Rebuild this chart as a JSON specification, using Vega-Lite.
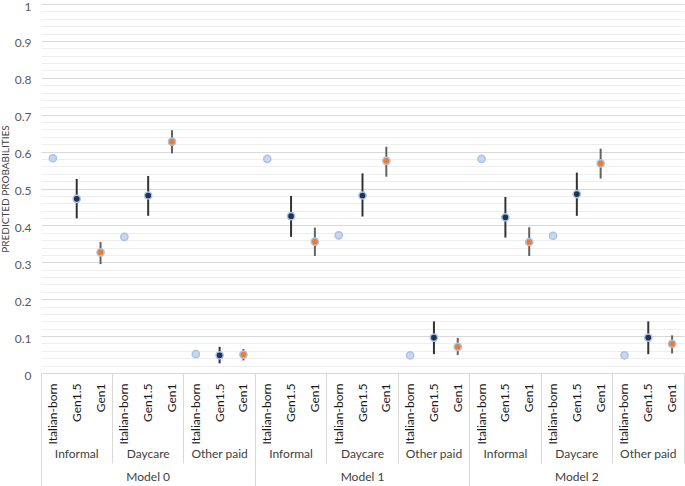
{
  "$schema": "https://vega.github.io/schema/vega-lite/v6.json",
  "autosize": {"type": "none"},
  "padding": {"left": 41, "top": 4, "right": 1, "bottom": 113},
  "width": 643,
  "height": 369,
  "background": "white",
  "config": {"view": {"stroke": null}, "font": "Lato"},
  "data": {
    "values": [
      {"model": "Model 0", "care": "Informal", "gen": "Italian-born", "p": 0.582, "lo": null, "hi": null},
      {"model": "Model 0", "care": "Informal", "gen": "Gen1.5", "p": 0.472, "lo": 0.419, "hi": 0.526},
      {"model": "Model 0", "care": "Informal", "gen": "Gen1", "p": 0.327, "lo": 0.295, "hi": 0.355},
      {"model": "Model 0", "care": "Daycare", "gen": "Italian-born", "p": 0.369, "lo": null, "hi": null},
      {"model": "Model 0", "care": "Daycare", "gen": "Gen1.5", "p": 0.481, "lo": 0.426, "hi": 0.534},
      {"model": "Model 0", "care": "Daycare", "gen": "Gen1", "p": 0.627, "lo": 0.595, "hi": 0.658},
      {"model": "Model 0", "care": "Other paid", "gen": "Italian-born", "p": 0.051, "lo": null, "hi": null},
      {"model": "Model 0", "care": "Other paid", "gen": "Gen1.5", "p": 0.048, "lo": 0.026, "hi": 0.071},
      {"model": "Model 0", "care": "Other paid", "gen": "Gen1", "p": 0.05, "lo": 0.034, "hi": 0.065},
      {"model": "Model 1", "care": "Informal", "gen": "Italian-born", "p": 0.58, "lo": null, "hi": null},
      {"model": "Model 1", "care": "Informal", "gen": "Gen1.5", "p": 0.425, "lo": 0.369, "hi": 0.48},
      {"model": "Model 1", "care": "Informal", "gen": "Gen1", "p": 0.356, "lo": 0.317, "hi": 0.394},
      {"model": "Model 1", "care": "Daycare", "gen": "Italian-born", "p": 0.373, "lo": null, "hi": null},
      {"model": "Model 1", "care": "Daycare", "gen": "Gen1.5", "p": 0.481, "lo": 0.424, "hi": 0.541},
      {"model": "Model 1", "care": "Daycare", "gen": "Gen1", "p": 0.575, "lo": 0.532, "hi": 0.613},
      {"model": "Model 1", "care": "Other paid", "gen": "Italian-born", "p": 0.048, "lo": null, "hi": null},
      {"model": "Model 1", "care": "Other paid", "gen": "Gen1.5", "p": 0.096, "lo": 0.051, "hi": 0.14},
      {"model": "Model 1", "care": "Other paid", "gen": "Gen1", "p": 0.071, "lo": 0.049, "hi": 0.095},
      {"model": "Model 2", "care": "Informal", "gen": "Italian-born", "p": 0.58, "lo": null, "hi": null},
      {"model": "Model 2", "care": "Informal", "gen": "Gen1.5", "p": 0.422, "lo": 0.367, "hi": 0.477},
      {"model": "Model 2", "care": "Informal", "gen": "Gen1", "p": 0.355, "lo": 0.317, "hi": 0.395},
      {"model": "Model 2", "care": "Daycare", "gen": "Italian-born", "p": 0.372, "lo": null, "hi": null},
      {"model": "Model 2", "care": "Daycare", "gen": "Gen1.5", "p": 0.485, "lo": 0.426, "hi": 0.543},
      {"model": "Model 2", "care": "Daycare", "gen": "Gen1", "p": 0.568, "lo": 0.527, "hi": 0.608},
      {"model": "Model 2", "care": "Other paid", "gen": "Italian-born", "p": 0.048, "lo": null, "hi": null},
      {"model": "Model 2", "care": "Other paid", "gen": "Gen1.5", "p": 0.096, "lo": 0.051, "hi": 0.14},
      {"model": "Model 2", "care": "Other paid", "gen": "Gen1", "p": 0.079, "lo": 0.053, "hi": 0.102}
    ]
  },
  "transform": [
    {"calculate": "datum.model + '|' + datum.care + '|' + datum.gen", "as": "slot"},
    {"calculate": "datum.model + '|' + datum.care", "as": "careKey"}
  ],
  "layer": [
    {
      "encoding": {
        "x": {
          "field": "slot", "type": "nominal",
          "scale": {
            "type": "band", "paddingInner": 0, "paddingOuter": 0,
            "domain": [
              "Model 0|Informal|Italian-born", "Model 0|Informal|Gen1.5", "Model 0|Informal|Gen1",
              "Model 0|Daycare|Italian-born", "Model 0|Daycare|Gen1.5", "Model 0|Daycare|Gen1",
              "Model 0|Other paid|Italian-born", "Model 0|Other paid|Gen1.5", "Model 0|Other paid|Gen1",
              "Model 1|Informal|Italian-born", "Model 1|Informal|Gen1.5", "Model 1|Informal|Gen1",
              "Model 1|Daycare|Italian-born", "Model 1|Daycare|Gen1.5", "Model 1|Daycare|Gen1",
              "Model 1|Other paid|Italian-born", "Model 1|Other paid|Gen1.5", "Model 1|Other paid|Gen1",
              "Model 2|Informal|Italian-born", "Model 2|Informal|Gen1.5", "Model 2|Informal|Gen1",
              "Model 2|Daycare|Italian-born", "Model 2|Daycare|Gen1.5", "Model 2|Daycare|Gen1",
              "Model 2|Other paid|Italian-born", "Model 2|Other paid|Gen1.5", "Model 2|Other paid|Gen1"
            ]
          },
          "axis": {
            "orient": "bottom", "title": null, "grid": false,
            "labelExpr": "split(datum.value, '|')[2]",
            "labelAngle": -90, "labelAlign": "right", "labelBaseline": "middle",
            "labelPadding": 10, "labelFontSize": 12, "labelColor": "#1a1a1a",
            "labelOverlap": false, "ticks": false, "tickSize": 0,
            "domain": true, "domainColor": "#d9d9d9", "domainWidth": 1
          }
        }
      },
      "layer": [
        {
          "mark": {"type": "rule", "strokeWidth": 2},
          "encoding": {
            "y": {
              "field": "lo", "type": "quantitative",
              "scale": {"domain": [0, 1], "nice": false, "zero": true},
              "axis": {
                "title": "PREDICTED PROBABILITIES",
                "titleFontSize": 10, "titleFontWeight": "normal", "titleColor": "#404040",
                "titlePadding": 4,
                "values": [0, 0.02, 0.04, 0.06, 0.08, 0.1, 0.12, 0.14, 0.16, 0.18, 0.2, 0.22, 0.24, 0.26, 0.28, 0.3, 0.32, 0.34, 0.36, 0.38, 0.4, 0.42, 0.44, 0.46, 0.48, 0.5, 0.52, 0.54, 0.56, 0.58, 0.6, 0.62, 0.64, 0.66, 0.68, 0.7, 0.72, 0.74, 0.76, 0.78, 0.8, 0.82, 0.84, 0.86, 0.88, 0.9, 0.92, 0.94, 0.96, 0.98, 1],
                "labelExpr": "abs(datum.value*10 - round(datum.value*10)) < 0.000001 ? format(datum.value, '~g') : ''",
                "labelFontSize": 12, "labelColor": "#595959", "labelPadding": 10,
                "labelOffset": 2,
                "labelOverlap": false,
                "ticks": false, "tickSize": 0, "domain": false,
                "grid": true,
                "gridColor": {
                  "condition": {"test": "abs(datum.value*10 - round(datum.value*10)) < 0.000001", "value": "#d9d9d9"},
                  "value": "#eeeeee"
                },
                "gridWidth": 1
              }
            },
            "y2": {"field": "hi"},
            "stroke": {
              "field": "gen", "type": "nominal",
              "scale": {"domain": ["Italian-born", "Gen1.5", "Gen1"], "range": ["#333333", "#333333", "#626262"]},
              "legend": null
            }
          }
        },
        {
          "mark": {"type": "circle", "size": 52, "stroke": "#a9c2e6", "strokeWidth": 1.5, "opacity": 1},
          "encoding": {
            "y": {
              "field": "p", "type": "quantitative",
              "scale": {"domain": [0, 1], "nice": false, "zero": true},
              "axis": {
                "title": "PREDICTED PROBABILITIES",
                "titleFontSize": 10, "titleFontWeight": "normal", "titleColor": "#404040",
                "titlePadding": 4,
                "values": [0, 0.02, 0.04, 0.06, 0.08, 0.1, 0.12, 0.14, 0.16, 0.18, 0.2, 0.22, 0.24, 0.26, 0.28, 0.3, 0.32, 0.34, 0.36, 0.38, 0.4, 0.42, 0.44, 0.46, 0.48, 0.5, 0.52, 0.54, 0.56, 0.58, 0.6, 0.62, 0.64, 0.66, 0.68, 0.7, 0.72, 0.74, 0.76, 0.78, 0.8, 0.82, 0.84, 0.86, 0.88, 0.9, 0.92, 0.94, 0.96, 0.98, 1],
                "labelExpr": "abs(datum.value*10 - round(datum.value*10)) < 0.000001 ? format(datum.value, '~g') : ''",
                "labelFontSize": 12, "labelColor": "#595959", "labelPadding": 10,
                "labelOffset": 2,
                "labelOverlap": false,
                "ticks": false, "tickSize": 0, "domain": false,
                "grid": true,
                "gridColor": {
                  "condition": {"test": "abs(datum.value*10 - round(datum.value*10)) < 0.000001", "value": "#d9d9d9"},
                  "value": "#eeeeee"
                },
                "gridWidth": 1
              }
            },
            "fill": {
              "field": "gen", "type": "nominal",
              "scale": {"domain": ["Italian-born", "Gen1.5", "Gen1"], "range": ["#c8d7ef", "#1f3251", "#ed7d31"]},
              "legend": null
            }
          }
        }
      ]
    },
    {
      "mark": {"type": "point", "opacity": 0},
      "encoding": {
        "x": {
          "field": "careKey", "type": "nominal", "sort": null,
          "scale": {"type": "band", "paddingInner": 0, "paddingOuter": 0},
          "axis": {
            "orient": "bottom", "title": null, "grid": false,
            "labelExpr": "split(datum.value, '|')[1]",
            "labelAngle": 0, "labelAlign": "center", "labelBaseline": "top",
            "labelPadding": 75, "labelFontSize": 12, "labelColor": "#404040",
            "labelOverlap": false, "ticks": false, "tickSize": 0, "domain": false
          }
        }
      }
    },
    {
      "mark": {"type": "point", "opacity": 0},
      "encoding": {
        "x": {
          "field": "careKey", "type": "nominal", "sort": null,
          "scale": {"type": "band", "paddingInner": 0, "paddingOuter": 0},
          "axis": {
            "orient": "bottom", "title": null, "grid": false, "labels": false,
            "ticks": true, "tickSize": 90, "tickColor": "#d9d9d9", "tickWidth": 1,
            "bandPosition": 1, "domain": false
          }
        }
      }
    },
    {
      "mark": {"type": "point", "opacity": 0},
      "encoding": {
        "x": {
          "field": "model", "type": "nominal", "sort": null,
          "scale": {"type": "band", "paddingInner": 0, "paddingOuter": 0},
          "axis": {
            "orient": "bottom", "title": null, "grid": false,
            "labelAngle": 0, "labelAlign": "center", "labelBaseline": "top",
            "labelPadding": 98, "labelFontSize": 12, "labelColor": "#404040",
            "labelOverlap": false, "ticks": false, "tickSize": 0, "domain": false
          }
        }
      }
    },
    {
      "mark": {"type": "point", "opacity": 0},
      "encoding": {
        "x": {
          "field": "model", "type": "nominal", "sort": null,
          "scale": {"type": "band", "paddingInner": 0, "paddingOuter": 0},
          "axis": {
            "orient": "bottom", "title": null, "grid": false, "labels": false,
            "ticks": true, "tickSize": 113, "tickColor": "#d9d9d9", "tickWidth": 1,
            "bandPosition": 0, "domain": false
          }
        }
      }
    }
  ],
  "resolve": {"scale": {"x": "independent"}, "axis": {"x": "independent"}}
}
